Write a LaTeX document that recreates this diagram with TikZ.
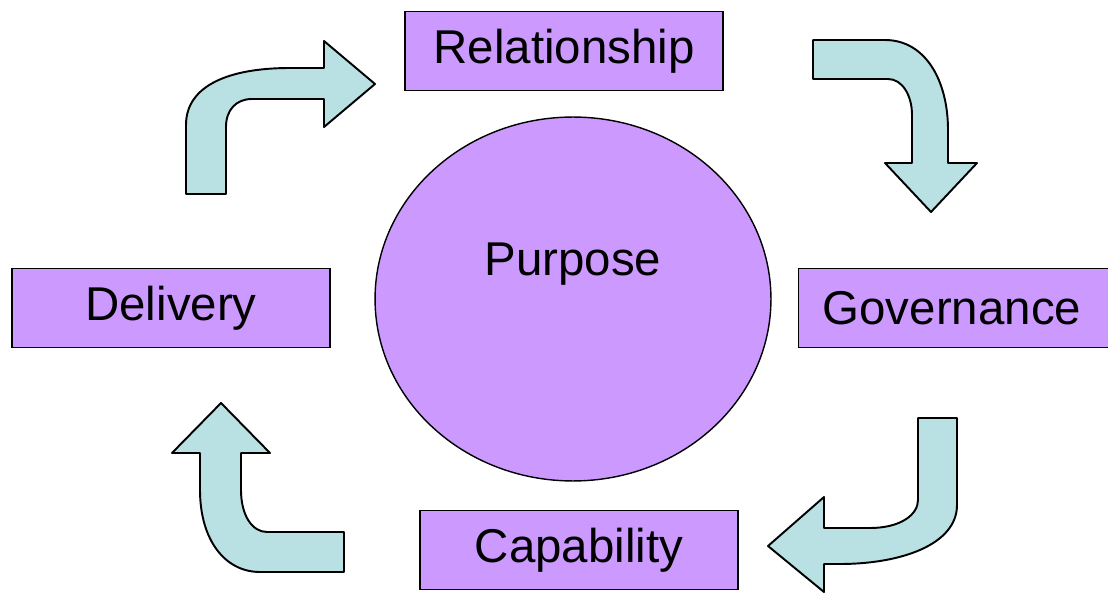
\documentclass[tikz,border=0pt]{standalone}
\usepackage{xcolor}
\usepackage{fontspec}
\usepackage{tikz}
\usetikzlibrary{positioning,shapes.geometric}
\setmainfont{Liberation Sans}
\definecolor{boxviolet}{RGB}{204,153,255}
\definecolor{arrowteal}{RGB}{185,224,227}

\begin{document}
\begin{tikzpicture}[
    x=0.02cm, y=-0.02cm,
    stagebox/.style={
        draw=black,
        fill=boxviolet,
        line width=0.8pt,
        minimum width=6.36cm,
        minimum height=1.58cm,
        inner sep=0pt,
        font=\fontsize{27}{32}\selectfont
    },
    bentarrow/.style={
        draw=black,
        fill=arrowteal,
        line width=1.1pt,
        line join=round
    }
]
    \useasboundingbox (0,0) rectangle (1108,594);

    % centre
    \node[ellipse, draw=black, fill=boxviolet, line width=0.8pt,
          minimum width=7.92cm, minimum height=7.28cm] (core) at (573,299) {};
    \node[font=\fontsize{27}{32}\selectfont] (purpose) at (573,264) {Purpose};

    % the four stages
    \node[stagebox] (relationship) at (564,51) {Relationship};
    \node[stagebox, anchor=west, inner xsep=0.48cm, text width=5.44cm, align=left]
        (governance) at (798,308) {Governance};
    \node[stagebox] (delivery) at (171,308) {Delivery};
    \node[stagebox] (capability) at (579,550) {Capability};

    % bent arrows round the cycle
    \draw[bentarrow] (186,194) -- (186,125)
        .. controls (186,85) and (230,68) .. (290,68)
        -- (324,68) -- (324,41) -- (375,84) -- (324,127) -- (324,99) -- (252,99)
        .. controls (236,99) and (226,110) .. (226,127)
        -- (226,194) -- cycle;

    \draw[bentarrow] (813,40) -- (885,40)
        .. controls (925,40) and (948,80) .. (948,130)
        -- (948,163) -- (977,163) -- (931,212) -- (885,163) -- (912,163) -- (912,115)
        .. controls (912,95) and (902,79) .. (888,79)
        -- (813,79) -- cycle;

    \draw[bentarrow] (918,418) -- (957,418) -- (957,505)
        .. controls (957,545) and (900,564) .. (840,564)
        -- (824,564) -- (824,592) -- (768,546) -- (824,497) -- (824,528) -- (870,528)
        .. controls (900,528) and (918,515) .. (918,500)
        -- cycle;

    \draw[bentarrow] (221,403) -- (270,453) -- (241,453) -- (241,490)
        .. controls (241,515) and (252,532) .. (267,532)
        -- (344,532) -- (344,572) -- (260,572)
        .. controls (225,572) and (200,540) .. (200,490)
        -- (200,453) -- (172,453) -- cycle;
\end{tikzpicture}
\end{document}
